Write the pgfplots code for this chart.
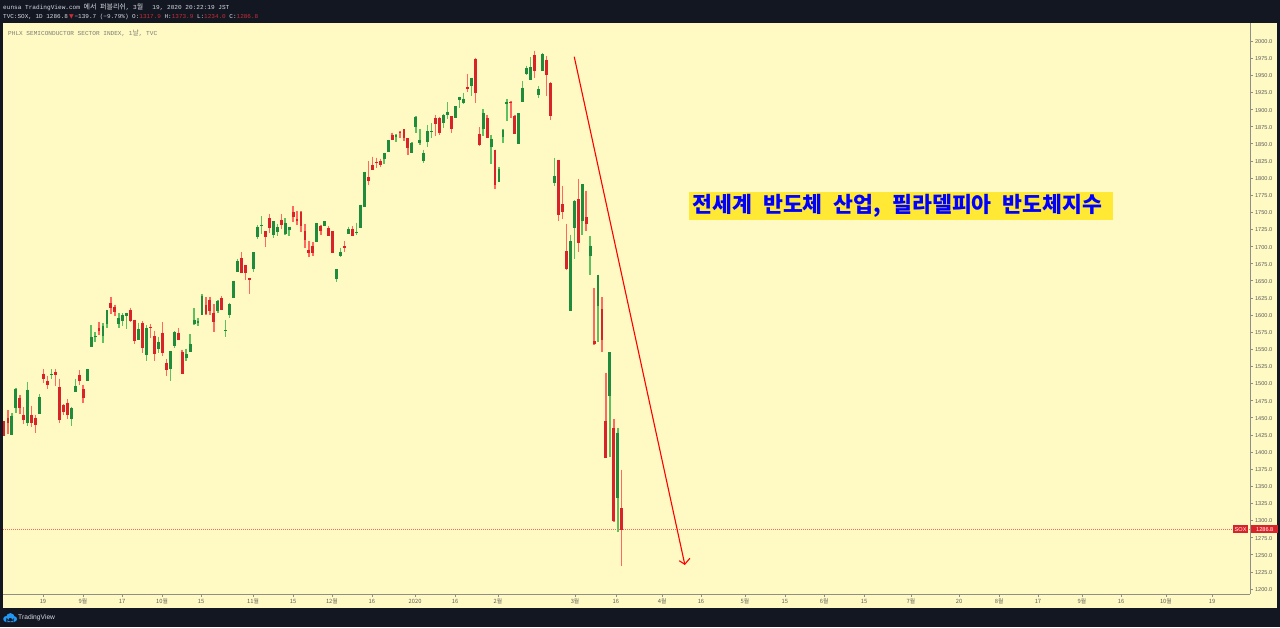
\documentclass[border=0pt]{standalone}
\usepackage{pgfplots}
\usepackage{pgfplotstable}
\usepackage{fontspec}
\pgfplotsset{compat=1.18}
\setmainfont{Liberation Sans}
\newfontfamily\kr{Noto Sans CJK KR}
\newfontfamily\krt[WordSpace=2.25]{Noto Sans CJK KR}
\newfontfamily\mono{Liberation Mono}
\newfontfamily\dv{DejaVu Sans}
\definecolor{dark}{HTML}{131722}
\definecolor{panel}{HTML}{FFF9C4}
\definecolor{cg}{HTML}{1F8B3C}
\definecolor{cr}{HTML}{D9232B}
\definecolor{wickg}{HTML}{5FC060}
\definecolor{wickr}{HTML}{FF6A60}
\definecolor{hl}{HTML}{FFE935}
\definecolor{axl}{HTML}{8F8F86}
\definecolor{lab}{HTML}{5D5D58}
\definecolor{wm}{HTML}{7E7E76}
\definecolor{hdr}{HTML}{D8DAE0}
\definecolor{hred}{HTML}{C62F36}
\definecolor{logo}{HTML}{2196F3}
\pgfplotstableread{
i h t b l
2 1456.4 1453.0 1425.3 1424.8
3 1493.9 1492.4 1465.7 1456.4
6 1502.2 1491.0 1443.8 1437.9
9 1484.2 1480.8 1455.9 1455.4
12 1520.7 1513.8 1512.9 1506.1
17 1466.2 1464.2 1448.6 1438.4
18 1506.6 1496.8 1489.0 1488.0
21 1521.6 1521.1 1505.1 1504.1
22 1584.9 1567.4 1553.8 1553.3
23 1575.2 1569.3 1568.4 1560.1
25 1587.8 1584.4 1569.8 1559.6
26 1607.3 1607.3 1587.8 1581.5
29 1602.4 1595.6 1587.3 1581.5
30 1602.4 1600.5 1591.7 1583.5
31 1603.4 1602.9 1599.0 1580.0
34 1588.8 1579.6 1564.0 1563.5
36 1584.9 1581.0 1543.1 1533.3
39 1568.4 1560.6 1551.3 1544.0
42 1547.9 1546.9 1522.6 1503.6
43 1576.6 1575.7 1556.2 1551.3
46 1550.8 1542.6 1537.7 1533.3
47 1572.3 1557.2 1547.4 1545.5
48 1610.2 1592.7 1587.8 1584.9
49 1595.6 1591.2 1589.8 1584.4
50 1630.2 1627.7 1601.5 1600.5
54 1621.9 1620.9 1607.3 1602.9
56 1592.7 1578.0 1577.3 1567.8
57 1617.5 1616.0 1601.4 1595.6
58 1650.0 1650.0 1625.2 1625.2
59 1681.8 1679.3 1663.8 1662.8
63 1691.5 1691.5 1668.6 1663.2
64 1730.9 1728.5 1715.3 1711.4
65 1744.5 1731.4 1730.4 1718.3
68 1737.2 1737.2 1718.3 1712.0
69 1732.4 1728.5 1722.6 1715.3
71 1741.2 1733.9 1718.7 1716.8
72 1728.9 1728.9 1725.1 1715.8
79 1733.9 1733.9 1707.6 1707.0
81 1737.2 1736.8 1730.9 1729.9
84 1666.7 1666.7 1654.0 1647.7
85 1698.2 1692.0 1687.6 1685.1
87 1728.9 1725.6 1718.7 1717.8
89 1734.7 1721.6 1720.1 1716.8
90 1761.0 1761.0 1728.5 1728.0
91 1808.8 1808.8 1759.1 1759.1
96 1836.5 1836.5 1828.7 1820.4
97 1855.5 1855.5 1838.4 1838.0
99 1864.2 1863.2 1860.3 1852.1
103 1852.1 1851.1 1836.9 1836.0
104 1890.1 1889.5 1875.9 1866.2
105 1871.1 1855.0 1851.5 1848.6
106 1840.9 1836.0 1826.3 1822.3
107 1877.4 1868.6 1854.0 1845.7
108 1879.9 1868.6 1867.6 1858.8
111 1893.5 1892.0 1880.8 1873.4
112 1910.5 1896.4 1893.0 1885.7
114 1905.1 1905.1 1889.0 1887.2
115 1918.3 1918.3 1914.3 1902.6
116 1924.1 1915.8 1910.5 1908.5
118 1946.5 1946.5 1935.3 1919.7
121 1900.3 1894.5 1872.0 1861.3
123 1862.8 1857.0 1845.7 1820.9
125 1815.6 1813.1 1795.6 1794.6
126 1871.1 1870.1 1860.3 1850.6
127 1914.9 1911.0 1908.5 1883.6
130 1894.5 1894.5 1850.6 1850.3
131 1941.2 1931.8 1912.0 1911.4
132 1964.0 1960.6 1952.9 1950.4
133 1976.2 1961.6 1943.5 1943.1
135 1933.9 1929.9 1921.6 1917.2
136 1983.0 1980.6 1957.7 1956.7
139 1829.6 1802.9 1793.7 1788.7
143 1716.8 1707.6 1606.8 1606.5
144 1767.9 1766.8 1728.0 1681.7
146 1791.3 1790.8 1737.6 1716.8
148 1715.3 1701.2 1686.6 1658.8
150 1658.4 1658.4 1613.6 1561.0
153 1545.5 1545.5 1482.2 1393.1
155 1435.5 1428.1 1333.8 1283.6
}\upbars
\pgfplotstableread{
i h t b l
0 1445.2 1445.2 1424.8 1424.8
1 1461.3 1450.1 1442.8 1426.2
4 1482.7 1478.3 1465.7 1455.4
5 1465.2 1454.5 1448.1 1440.9
7 1467.6 1454.0 1443.8 1437.0
8 1454.0 1450.1 1440.9 1428.2
10 1520.7 1514.3 1507.5 1500.2
11 1510.9 1503.6 1499.2 1492.0
13 1520.7 1517.3 1512.9 1496.8
14 1506.6 1495.4 1447.2 1442.8
15 1469.6 1469.1 1459.3 1454.0
16 1476.9 1472.0 1455.0 1447.7
19 1519.2 1512.4 1505.1 1497.8
20 1497.8 1492.0 1479.3 1472.0
24 1589.8 1580.5 1577.1 1570.8
27 1625.8 1617.5 1611.7 1601.0
28 1615.1 1611.7 1605.8 1598.5
32 1610.2 1606.8 1592.7 1590.3
33 1593.2 1592.7 1563.5 1557.2
35 1591.2 1588.3 1552.3 1545.0
37 1586.9 1582.5 1581.5 1565.9
38 1576.6 1569.3 1544.5 1532.8
40 1589.3 1573.7 1545.0 1539.6
41 1535.3 1529.9 1520.7 1510.9
44 1580.5 1574.2 1564.0 1563.5
45 1548.9 1546.0 1514.8 1514.3
51 1625.8 1614.6 1602.4 1600.0
52 1626.8 1621.9 1607.3 1600.0
53 1616.0 1602.9 1590.2 1575.6
55 1627.7 1624.3 1608.3 1607.3
60 1691.9 1683.2 1662.3 1661.3
61 1673.0 1673.0 1661.7 1651.0
62 1654.0 1654.0 1652.5 1631.1
66 1722.2 1722.2 1715.3 1699.7
67 1747.0 1741.6 1728.0 1720.1
70 1747.0 1738.7 1732.9 1725.6
73 1759.1 1750.8 1743.5 1735.8
74 1751.4 1740.1 1738.7 1730.9
75 1751.4 1750.4 1730.9 1721.6
76 1732.9 1722.6 1710.5 1698.2
77 1708.0 1694.9 1691.5 1685.1
78 1706.1 1700.7 1691.5 1686.6
80 1731.4 1729.5 1723.1 1716.8
82 1729.9 1727.0 1716.8 1715.8
83 1722.2 1722.2 1692.0 1691.0
86 1707.6 1700.7 1698.2 1691.5
88 1729.9 1726.0 1715.8 1715.3
92 1824.8 1801.5 1797.1 1790.2
93 1831.1 1819.0 1813.1 1812.4
94 1829.6 1823.4 1822.3 1815.0
95 1828.2 1825.2 1820.0 1816.0
98 1866.2 1863.2 1857.0 1856.2
100 1869.0 1867.6 1866.7 1858.0
101 1871.5 1871.5 1858.8 1854.5
102 1858.0 1858.0 1845.3 1833.2
109 1891.5 1887.6 1879.3 1861.3
110 1889.5 1888.0 1867.2 1862.8
113 1890.5 1890.5 1873.0 1866.2
117 1951.9 1932.4 1930.4 1925.1
119 1975.2 1974.2 1924.5 1910.0
120 1874.0 1864.7 1849.6 1847.2
122 1891.5 1887.6 1859.4 1858.4
124 1841.3 1841.3 1790.2 1783.5
128 1912.9 1911.4 1910.5 1888.0
129 1892.0 1891.0 1865.3 1864.2
134 1985.8 1979.1 1957.7 1946.4
137 1978.1 1972.3 1950.8 1920.2
138 1939.7 1938.3 1892.0 1884.7
140 1826.3 1826.3 1747.4 1737.6
141 1788.7 1762.0 1750.8 1740.1
142 1732.9 1693.4 1668.6 1665.7
145 1798.1 1769.3 1706.1 1692.4
147 1781.5 1743.1 1734.3 1723.1
149 1639.4 1562.0 1559.1 1556.6
151 1625.8 1608.7 1563.9 1546.4
152 1515.8 1445.7 1392.2 1390.8
154 1447.7 1434.6 1299.7 1298.2
156 1373.9 1317.9 1286.8 1234.0
}\downbars
\begin{document}
\begin{tikzpicture}[x=1pt,y=1pt]
\useasboundingbox (0,0) rectangle (1280,627);
\fill[dark] (0,0) rectangle (1280,627);
\fill[panel] (3,19) rectangle (1277,604);
\begin{axis}[
  at={(3pt,33pt)}, anchor=south west,
  scale only axis, width=1247pt, height=571pt,
  clip=false,
  xmin=-0.25, xmax=314.65, ymin=1192.6, ymax=2026.3,
  axis x line=bottom, axis y line=right,
  axis line style={-, draw=axl, line width=0.8pt},
  tick align=outside, major tick length=3pt,
  tick style={draw=axl, line width=0.6pt},
  ytick={1200,1225,...,2000},
  /pgf/number format/fixed, /pgf/number format/fixed zerofill, /pgf/number format/precision=1,
  /pgf/number format/1000 sep={}, /pgf/number format/assume math mode=true,
  y tick label style={font=\fontsize{5.6}{6}\selectfont, text=lab, anchor=west, xshift=-1.5pt, yshift=-0.6pt},
  xtick={9.85,19.95,29.8,39.9,49.75,62.9,73,82.8,92.9,103.8,113.9,124.75,144.2,154.5,166.2,176,187.1,197.2,207.1,217.2,229,241.2,251.3,261.1,272.2,282.1,293.4,305.05},
  xticklabels={19,9월,17,10월,15,11월,15,12월,16,2020,16,2월,3월,16,4월,16,5월,15,6월,15,7월,20,8월,17,9월,16,10월,19},
  x tick label style={font=\kr\fontsize{5.8}{6}\selectfont, text=lab, anchor=center, yshift=-4.2pt},
]
% price line
\addplot[forget plot, color=wickr, line width=0.9pt, dash pattern=on 1.2pt off 0.8pt] coordinates {(-0.25,1286.8) (314.65,1286.8)};
% wicks
\addplot[forget plot, only marks, mark size=0, color=wickg, error bars/.cd, y dir=minus, y explicit, error mark=none,
  error bar style={draw=wickg, line width=1.4pt}]
  table[x=i, y=h, y error minus expr=\thisrow{h}-\thisrow{l}] {\upbars};
\addplot[forget plot, only marks, mark size=0, color=wickr, error bars/.cd, y dir=minus, y explicit, error mark=none,
  error bar style={draw=wickr, line width=1.4pt}]
  table[x=i, y=h, y error minus expr=\thisrow{h}-\thisrow{l}] {\downbars};
% bodies
\addplot[forget plot, only marks, mark size=0, error bars/.cd, y dir=minus, y explicit, error mark=none,
  error bar style={draw=cg, line width=2.9pt}]
  table[x=i, y=t, y error minus expr=\thisrow{t}-\thisrow{b}+1] {\upbars};
\addplot[forget plot, only marks, mark size=0, error bars/.cd, y dir=minus, y explicit, error mark=none,
  error bar style={draw=cr, line width=2.9pt}]
  table[x=i, y=t, y error minus expr=\thisrow{t}-\thisrow{b}+1] {\downbars};
% arrow
\addplot[forget plot, red, line width=1.1pt] coordinates {(144,1977) (171.9,1236)};
\addplot[forget plot, red, line width=1.1pt] coordinates {(170.5,1241.2) (171.9,1236) (173.2,1244.7)};
% price tag
\node[fill=cr, text=white, inner sep=0pt, minimum width=15pt, minimum height=8pt, anchor=east,
  font=\fontsize{5.6}{6}\selectfont] at (axis cs:314.2,1286.8) {SOX};
\node[fill=cr, text=white, inner sep=0pt, minimum width=27pt, minimum height=8pt, anchor=west,
  font=\fontsize{5.6}{6}\selectfont] at (axis cs:314.9,1286.8) {1286.8};
\end{axis}
% heading box
\fill[hl] (689,407) rectangle (1113,435);
\node[anchor=west, inner sep=0pt, text=blue, font=\krt\bfseries\fontsize{21.6}{26}\selectfont] at (692.3,421) {전세계 반도체 산업, 필라델피아 반도체지수};
% watermark
\node[anchor=west, inner sep=0pt, text=wm, font=\mono\fontsize{6.1}{7}\selectfont] at (8,594.2) {PHLX SEMICONDUCTOR SECTOR INDEX, 1{\kr\fontsize{6.8}{7}\selectfont 날}, TVC};
% header
\node[anchor=west, inner sep=0pt, text=hdr, font=\mono\fontsize{6.1}{7}\selectfont] at (3,619.6) {eunsa TradingView.com {\kr\fontsize{7}{7}\selectfont 에서 퍼블리쉬}, 3{\kr\fontsize{7}{7}\selectfont 월}\hspace{5.5pt} 19, 2020 20:22:19 JST};
\node[anchor=west, inner sep=0pt, text=hdr, font=\mono\fontsize{6}{7}\selectfont] at (3,610.4) {TVC:SOX, 1D 1286.8\,{\dv\textcolor{hred}{▼}}\,−139.7 (−9.79\%) O:\textcolor{hred}{1317.9} H:\textcolor{hred}{1373.9} L:\textcolor{hred}{1234.0} C:\textcolor{hred}{1286.8}};
% logo
\fill[logo] (6.2,8) circle[radius=3] (10.4,9.6) circle[radius=4.3] (14.2,8) circle[radius=2.8] (6,5) rectangle (14.2,9);
\draw[dark, line width=0.7pt] (6.5,8.5) -- (8.5,6.6) -- (10.5,8.5) -- (12.3,6.6) -- (14,8.5);
\node[anchor=west, inner sep=0pt, text=hdr, font=\fontsize{6.7}{8}\selectfont] at (18,9.3) {TradingView};
\end{tikzpicture}
\end{document}
